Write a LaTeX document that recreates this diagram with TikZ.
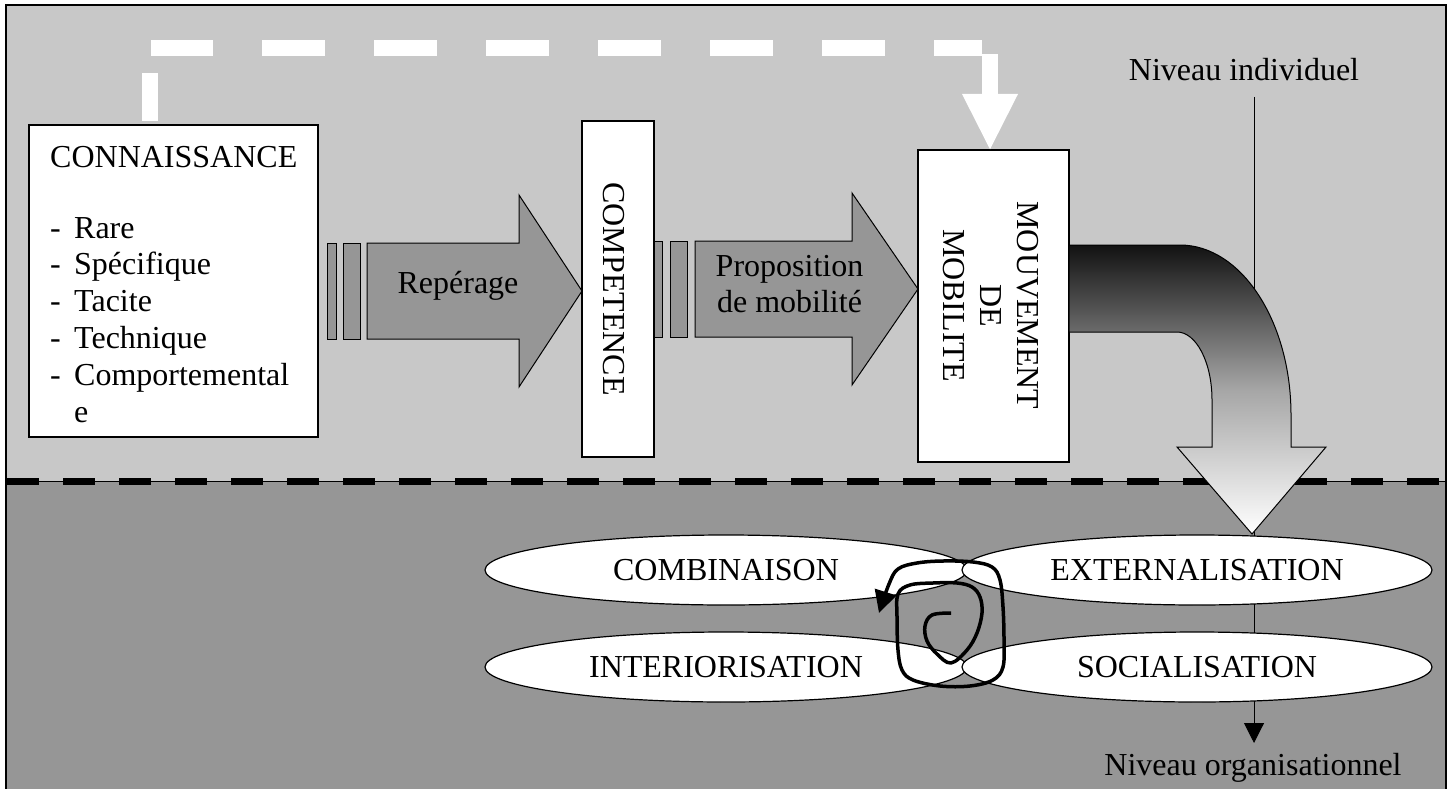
\documentclass[tikz,border=0pt]{standalone}
\usepackage{fontspec}
\setmainfont{Liberation Serif}
\usetikzlibrary{arrows.meta,shapes.geometric}
\definecolor{lightbg}{RGB}{200,200,200}
\definecolor{darkbg}{RGB}{150,150,150}
\definecolor{arrowgray}{RGB}{150,150,150}
\begin{document}
\begin{tikzpicture}[x=1pt,y=-1pt,
  txt/.style={font=\fontsize{32}{36.8}\selectfont, inner sep=0pt},
  box/.style={draw=black, line width=1.5pt, fill=white, inner sep=0pt},
  stripe/.style={draw=black, line width=1pt, fill=arrowgray},
  ell/.style={ellipse, draw=black, line width=1.2pt, fill=white, minimum height=70pt, inner sep=0pt, font=\fontsize{32}{36.8}\selectfont},
  whitedash/.style={white, line width=16pt, dash pattern=on 48pt off 26pt on 62pt off 49pt on 63pt off 49pt on 63pt off 49pt on 63pt off 49pt on 63pt off 49pt on 63pt off 49pt on 63pt off 49pt on 200pt off 10pt}
]
\useasboundingbox (0,0) rectangle (1450,789);
% backgrounds
\fill[lightbg] (6,5) rectangle (1446,481);
\fill[darkbg] (6,481) rectangle (1446,792);
% separator
\draw[line width=1pt] (6,481) -- (1446,481);
\draw[line width=7pt, dash pattern=on 32pt off 24pt] (7,481) -- (1446,481);
% level line
\node[txt, anchor=base] (nind) at (1244,81) {Niveau individuel};
\node[txt, anchor=base] (norg) at (1253,775) {Niveau organisationnel};
\coordinate (vtop) at (1254,97);
\coordinate (vbot) at (1254,743);
\draw[line width=1pt, -{Triangle[length=20pt,width=20pt]}] (vtop) -- (vbot);
% CONNAISSANCE box
\node[box, minimum width=289pt, minimum height=312pt] (conn) at (173.5,281) {};
\node[txt, anchor=base west] (conntitle) at (50,167) {CONNAISSANCE};
\node[txt, anchor=north west] (connlist) at (50,212.2) {\begin{tabular}{@{}p{24pt}@{}l@{}}
-&Rare\\
-&Spécifique\\
-&Tacite\\
-&Technique\\
-&Comportemental\\
&e
\end{tabular}};
% first block arrow
\draw[stripe] (327,243) rectangle (336,339);
\draw[stripe] (343,243) rectangle (360,339);
\draw[stripe] (367,243) -- (519,243) -- (519,195) -- (582,291) -- (519,387) -- (519,339) -- (367,339) -- cycle;
\node[txt, anchor=base] (rep) at (458,293) {Repérage};
% COMPETENCE
\node[box, minimum width=72pt, minimum height=336pt] (comp) at (618,289) {};
\node[txt, rotate=-90] (comptxt) at (613.5,289) {COMPETENCE};
% second block arrow
\draw[stripe] (654,241) rectangle (662,337);
\draw[stripe] (670,241) rectangle (687,337);
\draw[stripe] (695,241) -- (852,241) -- (852,193) -- (918,289) -- (852,385) -- (852,337) -- (695,337) -- cycle;
\node[txt, align=center] (prop) at (789.5,284) {Proposition\\de mobilité};
% MOUVEMENT box
\node[box, minimum width=151pt, minimum height=312pt] (mob) at (993.5,306) {};
\node[txt, rotate=-90, align=center] (mobtxt) at (991,305.5) {MOUVEMENT\\DE\\MOBILITE};
% white dashed connector
\coordinate (d0) at (150,121);
\coordinate (d2) at (990,54);
\coordinate (d1) at (990,94);
\draw[whitedash] (d0) |- (982,48);
\draw[white, line width=16pt] (d2) -- (d1);
\fill[white] (962,94) -- (1018,94) -- (mob.north -| d1) -- cycle;
% gradient curved arrow
\draw[line width=1pt, top color=black!93, bottom color=white, middle color=black!35]
  (1069,245) -- (1180,245) .. controls (1241,245) and (1291,321) .. (1291,415)
  -- (1291,447) -- (1326,447) -- (1252,534) -- (1177,447) -- (1212,447) -- (1212,400)
  .. controls (1212,362) and (1196,332) .. (1177,332) -- (1069,332) -- cycle;
% ellipses
\node[ell, minimum width=482pt] (comb) at (726,570) {COMBINAISON};
\node[ell, minimum width=482pt] (inter) at (726,667) {INTERIORISATION};
\node[ell, minimum width=470pt] (ext) at (1197,570) {EXTERNALISATION};
\node[ell, minimum width=470pt] (soc) at (1197,667) {SOCIALISATION};
% spiral
\draw[line width=3.5pt, line join=round, -{Triangle[length=22pt,width=22pt]}] plot[smooth, tension=0.6] coordinates {
 (951,613) (932,615) (925,626) (927,641) (937,654) (951,663) (967,650) (977,633) (982,613) (980,597) (972,587) (957,583) (933,583) (910,585) (898,594) (897,617) (898,650) (902,670) (913,680) (940,686) (970,686) (993,680) (1003,667) (1004,640) (1003,607) (1000,580) (992,567) (973,562) (943,561) (917,563) (898,569) (889,584) (879,613)};
% frame
\draw[line width=2pt] (6,5) rectangle (1446,792);
\end{tikzpicture}
\end{document}
